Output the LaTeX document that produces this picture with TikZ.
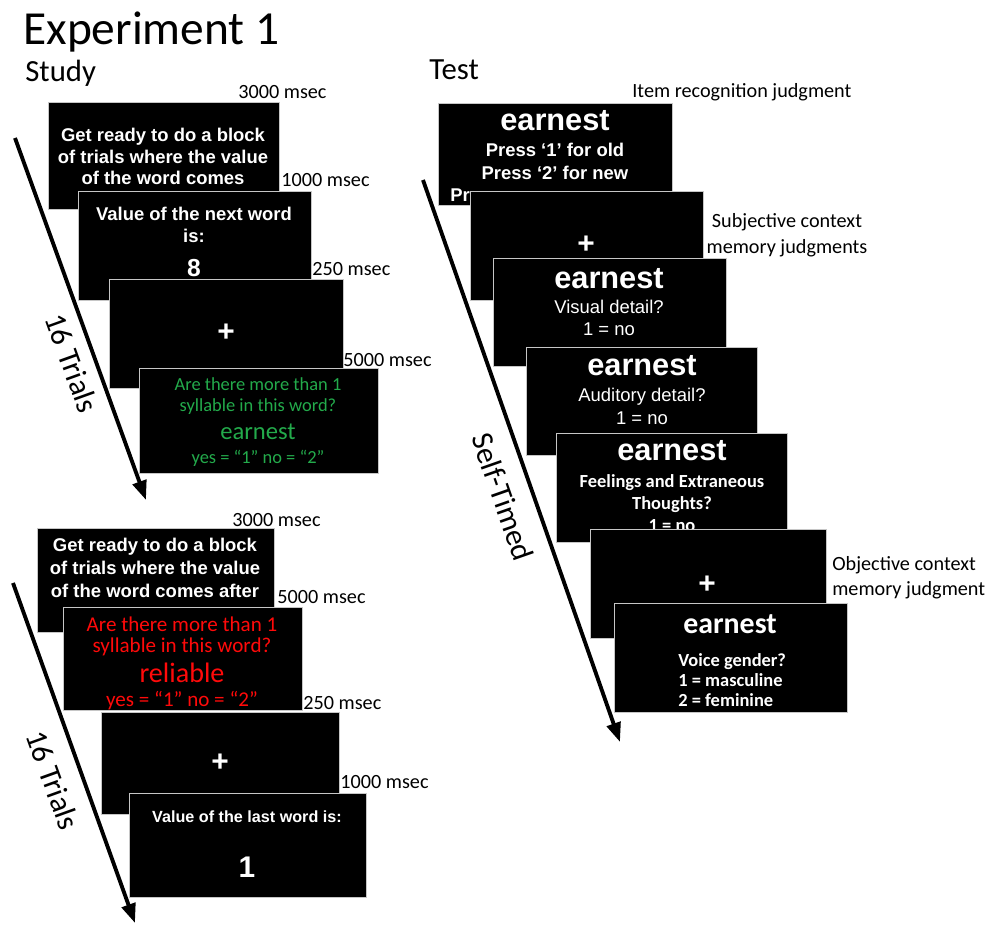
\documentclass[tikz,border=0pt]{standalone}
\usepackage{fontspec}
\setmainfont{Carlito}
\newfontfamily\arialfont{Liberation Sans}
\usepackage{tikz}
\usetikzlibrary{arrows.meta,positioning}
\definecolor{cuegreen}{RGB}{35,170,75}
\definecolor{cuered}{RGB}{255,10,10}

\tikzset{
  screen/.style 2 args={fill=black, draw=gray!45, line width=0.5pt, inner sep=0pt, anchor=north west,
    minimum width=#1*0.02cm, minimum height=#2*0.02cm},
  scrtext/.style={text=white, inner sep=0pt, align=center, font=\arialfont\bfseries\fontsize{10.5}{12.2}\selectfont},
  scrplain/.style={text=white, inner sep=0pt, align=center, font=\arialfont\fontsize{10.5}{12.5}\selectfont},
  scrcal/.style={text=white, inner sep=0pt, align=center, font=\bfseries\fontsize{10.5}{12.5}\selectfont},
  word/.style={text=white, inner sep=0pt, font=\arialfont\bfseries\fontsize{17.5}{18}\selectfont},
  bignum/.style={text=white, inner sep=0pt, font=\arialfont\bfseries\fontsize{14}{15}\selectfont},
  plus/.style={text=white, inner sep=0pt, font=\arialfont\bfseries\fontsize{17}{18}\selectfont},
  timing/.style={inner sep=0pt, anchor=west, font=\fontsize{11.5}{13}\selectfont},
  trials/.style={inner sep=0pt, font=\fontsize{17.5}{18}\selectfont},
  timeline/.style={line width=2.2pt, -{Triangle[length=11pt,width=8pt]}}
}

\begin{document}
\begin{tikzpicture}[x=0.02cm, y=-0.02cm]
\useasboundingbox (0,0) rectangle (985,925);

\node[inner sep=0pt, anchor=base west, font=\fontsize{27}{30}\selectfont] (exp) at (23,45) {Experiment 1};
\node[inner sep=0pt, anchor=base west, font=\fontsize{17.5}{20}\selectfont] (study) at (25,82) {Study};
\node[inner sep=0pt, anchor=base west, font=\fontsize{17.5}{20}\selectfont] (test) at (429,80) {Test};

% timelines
\coordinate (a1s) at (15,138);
\coordinate (a1e) at (146,500);
\coordinate (a2s) at (13,583);
\coordinate (a2e) at (135,923);
\coordinate (a3s) at (423,180);
\coordinate (a3e) at (620,742);
\draw[timeline] (a1s) -- (a1e);
\draw[timeline] (a2s) -- (a2e);
\draw[timeline] (a3s) -- (a3e);
\node[trials, rotate=-70.2] (tr1) at (72,363) {16 Trials};
\node[trials, rotate=-70.2] (tr2) at (53,780) {16 Trials};
\node[trials, rotate=-70.7] (self) at (503,497) {Self-Timed};

% study block, value before word
\node[screen={231}{107}] (s1) at (48,102) {};
\node[scrtext, anchor=north] (s1txt) at (163,128) {Get ready to do a block\\of trials where the value\\of the word comes};
\node[screen={233}{109}] (s2) at (78,191) {};
\node[scrtext, anchor=north] (s2txt) at (194,207) {Value of the next word\\is:};
\node[bignum, anchor=north] (s2num) at (194,259) {8};
\node[screen={234}{109}] (s3) at (109,279) {};
\node[plus] (s3txt) at (226,333) {+};
\node[screen={239}{105}] (s4) at (139,368) {};
\node[inner sep=0pt, anchor=north, align=center, text=cuegreen, font=\fontsize{10.5}{11.9}\selectfont] (s4txt) at (258,377) {Are there more than 1\\syllable in this word?};
\node[inner sep=0pt, text=cuegreen, font=\fontsize{14}{15}\selectfont] (s4word) at (258,432) {earnest};
\node[inner sep=0pt, text=cuegreen, font=\fontsize{10.5}{12}\selectfont] (s4key) at (258,458) {yes = “1” no = “2”};

\node[timing] (d1) at (238,92) {3000 msec};
\node[timing] (d2) at (281,180) {1000 msec};
\node[timing] (d3) at (312,269) {250 msec};
\node[timing] (d4) at (343,360) {5000 msec};

% study block, value after word
\node[screen={237}{104}] (s5) at (37,528) {};
\node[scrtext, anchor=north, font=\arialfont\bfseries\fontsize{10.5}{13}\selectfont] (s5txt) at (155,538) {Get ready to do a block\\of trials where the value\\of the word comes after};
\node[screen={239}{103}] (s6) at (63,607) {};
\node[inner sep=0pt, anchor=north, align=center, text=cuered, font=\fontsize{12}{11.9}\selectfont] (s6txt) at (182,617) {Are there more than 1\\syllable in this word?};
\node[inner sep=0pt, text=cuered, font=\fontsize{16}{17}\selectfont] (s6word) at (182,673) {reliable};
\node[inner sep=0pt, text=cuered, font=\fontsize{12}{13}\selectfont] (s6key) at (182,701) {yes = “1” no = “2”};
\node[screen={238}{102}] (s7) at (101,712) {};
\node[plus] (s7txt) at (220,763) {+};
\node[screen={237}{104}] (s8) at (129,793) {};
\node[scrtext, font=\arialfont\bfseries\fontsize{9.2}{11}\selectfont] (s8txt) at (247,817) {Value of the last word is:};
\node[bignum, font=\arialfont\bfseries\fontsize{17}{18}\selectfont] (s8num) at (247,867) {1};

\node[timing] (d5) at (232,520) {3000 msec};
\node[timing] (d6) at (277,597) {5000 msec};
\node[timing] (d7) at (303,703) {250 msec};
\node[timing] (d8) at (340,782) {1000 msec};

% test phase
\node[screen={234}{102}] (t1) at (438,103) {};
\node[word] (t1word) at (555,121) {earnest};
\node[scrtext, anchor=north, font=\arialfont\bfseries\fontsize{10.5}{13}\selectfont] (t1txt) at (555,143) {Press ‘1’ for old\\Press ‘2’ for new};
\node[scrtext, anchor=west] (t1cut) at (450,195) {Pr};
\node[screen={233}{109}] (t2) at (470,191) {};
\node[plus] (t2txt) at (586,245) {+};
\node[screen={233}{108}] (t3) at (493,258) {};
\node[word] (t3word) at (609,279) {earnest};
\node[scrplain, anchor=north] (t3txt) at (609,300) {Visual detail?\\1 = no};
\node[screen={231}{108}] (t4) at (526,347) {};
\node[word] (t4word) at (642,366) {earnest};
\node[scrplain, anchor=north, font=\arialfont\fontsize{10.5}{13}\selectfont] (t4txt) at (642,388) {Auditory detail?\\1 = no};
\node[screen={231}{109}] (t5) at (556,433) {};
\node[word] (t5word) at (672,451) {earnest};
\node[scrcal, anchor=north] (t5txt) at (672,474) {Feelings and Extraneous\\Thoughts?\\1 = no};
\node[screen={236}{109}] (t6) at (590,529) {};
\node[plus] (t6txt) at (707,585) {+};
\node[screen={233}{109}] (t7) at (614,603) {};
\node[word, font=\bfseries\fontsize{17}{18}\selectfont] (t7word) at (730,624) {earnest};
\node[scrcal, anchor=north west, align=left, font=\bfseries\fontsize{10.5}{11.5}\selectfont] (t7txt) at (678,653) {Voice gender?\\1 = masculine\\2 = feminine};

\node[timing] (n1) at (632,92) {Item recognition judgment};
\node[inner sep=0pt, align=center, font=\fontsize{11.5}{14.7}\selectfont] (n2) at (787,235) {Subjective context\\memory judgments};
\node[timing, align=left, font=\fontsize{11.5}{14.2}\selectfont] (n3) at (832,578) {Objective context\\memory judgment};
\end{tikzpicture}
\end{document}
